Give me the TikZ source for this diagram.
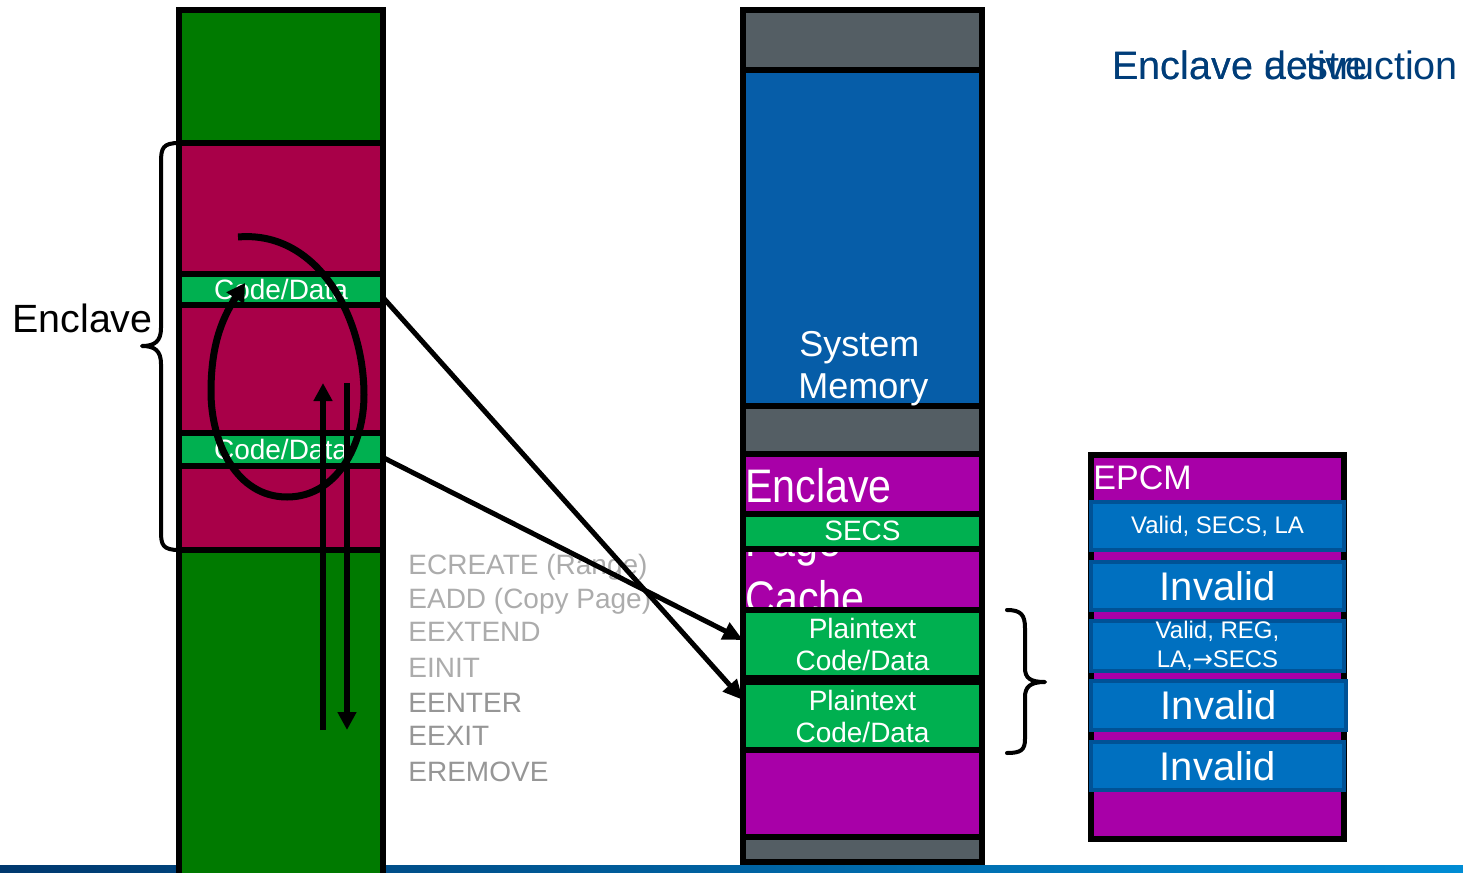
\documentclass[tikz,border=0pt]{standalone}
\usepackage{fontspec}
\setmainfont{Liberation Sans}
\newfontfamily\arrowfont{DejaVu Sans}
\usetikzlibrary{arrows.meta}

\definecolor{dkgreen}{RGB}{0,122,0}
\definecolor{maroon}{RGB}{168,0,72}
\definecolor{ltgreen}{RGB}{0,176,80}
\definecolor{slate}{RGB}{84,94,100}
\definecolor{sysblue}{RGB}{6,93,168}
\definecolor{epcpurple}{RGB}{168,0,168}
\definecolor{boxblue}{RGB}{0,112,192}
\definecolor{boxedge}{RGB}{0,82,150}
\definecolor{titleblue}{RGB}{0,61,121}
\definecolor{cmdgray}{RGB}{172,172,172}
\definecolor{cmddark}{RGB}{150,150,150}
\definecolor{barleft}{RGB}{0,56,110}
\definecolor{barright}{RGB}{0,140,212}

\begin{document}
\begin{tikzpicture}[x=0.5pt,y=-0.5pt,
  seg/.style={draw=black, line width=3pt, inner sep=0pt, outer sep=0pt, anchor=north west},
  lcol/.style={seg, minimum width=102pt},
  mcol/.style={seg, minimum width=119.5pt},
  bandtext/.style={text=white, font=\fontsize{14pt}{16pt}\selectfont, align=center},
  epcmbox/.style={draw=boxedge, line width=2pt, fill=boxblue, inner sep=0pt, outer sep=0pt,
    text=white, align=center},
  small/.style={font=\fontsize{12pt}{14.5pt}\selectfont},
  big/.style={font=\fontsize{20pt}{22pt}\selectfont},
  cmd/.style={anchor=base west, inner sep=0pt, font=\fontsize{14pt}{16pt}\selectfont},
  epctext/.style={anchor=base west, inner sep=0pt, text=white, font=\fontsize{21pt}{26.5pt}\selectfont},
  brace/.style={draw=black, line width=2pt, line cap=round, line join=round},
  flow/.style={draw=black, line width=2.5pt, -{Triangle[length=10pt,width=9pt]}},
  vflow/.style={draw=black, line width=3pt, -{Triangle[length=9pt,width=9pt]}},
  loop/.style={draw=black, line width=3.5pt, -{Triangle[length=9pt,width=10pt]}}
]
\useasboundingbox (0,0) rectangle (1463,873);

% footer bar
\shade[left color=barleft, right color=barright] (0,865) rectangle (1463,873);

% ---- application address space ----
\node[lcol, fill=dkgreen, minimum height=66.5pt] (lctop) at (179,10) {};
\node[lcol, fill=maroon, minimum height=65.5pt] (mr1) at (179,143) {};
\node[lcol, fill=ltgreen, minimum height=15.5pt] (cd1) at (179,274) {};
\node[lcol, fill=maroon, minimum height=64pt] (mr2) at (179,305) {};
\node[lcol, fill=ltgreen, minimum height=16.5pt] (cd2) at (179,433) {};
\node[lcol, fill=maroon, minimum height=42pt] (mr3) at (179,466) {};
\node[lcol, fill=dkgreen, minimum height=175pt] (lcbot) at (179,550) {};
\node[bandtext] at (cd1.center) {Code/Data};
\node[bandtext] at (cd2.center) {Code/Data};

% enclave brace and label
\draw[brace] (mr1.north west) .. controls (163,143) and (161,148) .. (161,162)
  -- (161,328) .. controls (161,341) and (155,346) .. (142,346)
  .. controls (155,346) and (161,351) .. (161,364)
  -- (161,532) .. controls (161,545) and (163,550) .. (mr3.south west);
\node[anchor=base west, inner sep=0pt, font=\fontsize{19.7pt}{22pt}\selectfont] (enclbl) at (12,332) {Enclave};

% ---- physical memory ----
\node[mcol, fill=slate, minimum height=30pt] (mtop) at (743,10) {};
\node[mcol, fill=sysblue, minimum height=168pt] (sysmem) at (743,70) {};
\node[mcol, fill=slate, minimum height=24pt] (mgap) at (743,406) {};
\node[mcol, fill=epcpurple, minimum height=191.5pt] (epc) at (743,454) {};
\node[mcol, fill=slate, minimum height=12.5pt] (mbot) at (743,837) {};

\node[anchor=base west, inner sep=0pt, text=white, font=\fontsize{18pt}{21pt}\selectfont] at (799,356) {System};
\node[anchor=base west, inner sep=0pt, text=white, font=\fontsize{18pt}{21pt}\selectfont] at (798,398) {Memory};

\node[epctext] at (745,502) {\scalebox{0.98}[1.12]{Enclave}};
\node[epctext] at (745,556) {\scalebox{0.98}[1.12]{Page}};
\node[epctext] at (745,614) {\scalebox{0.98}[1.12]{Cache}};

\node[mcol, fill=ltgreen, minimum height=17.25pt] (secs) at (743,514) {};
\node[bandtext] at (secs.center) {SECS};
\node[mcol, fill=ltgreen, minimum height=34pt] (pt1) at (743,610) {};
\node[bandtext] at (pt1.center) {Plaintext\\Code/Data};
\node[mcol, fill=ltgreen, minimum height=34pt] (pt2) at (743,682) {};
\node[bandtext] at (pt2.center) {Plaintext\\Code/Data};

% brace over the loaded pages
\draw[brace] (1007,610) .. controls (1021,610) and (1025,615) .. (1025,628)
  -- (1025,668) .. controls (1025,678) and (1030,682) .. (1045,682)
  .. controls (1030,682) and (1025,687) .. (1025,697)
  -- (1025,739) .. controls (1025,750) and (1021,753) .. (1007,753);

% ---- EPCM ----
\node[seg, fill=epcpurple, minimum width=126.25pt, minimum height=192pt] (epcm) at (1091,454.5) {};
\node[anchor=base west, inner sep=0pt, text=white, font=\fontsize{17pt}{20pt}\selectfont] at (1093,489) {EPCM};
\node[epcmbox, small, minimum width=126.5pt, minimum height=24pt] (e1) at (1217.5,526) {Valid, SECS, LA};
\node[epcmbox, big, minimum width=126.5pt, minimum height=24pt] (e2) at (1217.5,586) {Invalid};
\node[epcmbox, small, minimum width=126.5pt, minimum height=24pt] (e3) at (1217.5,646) {Valid, REG,\\LA,{\arrowfont →}SECS};
\node[epcmbox, big, minimum width=127.5pt, minimum height=24.5pt] (e4) at (1218.5,705.5) {Invalid};
\node[epcmbox, big, minimum width=126.5pt, minimum height=24pt] (e5) at (1217.5,766) {Invalid};

% ---- instruction list ----
\node[cmd, text=cmdgray] (c1) at (408,574) {ECREATE (Range)};
\node[cmd, text=cmdgray] (c2) at (408,608) {EADD (Copy Page)};
\node[cmd, text=cmdgray] (c3) at (408,641) {EEXTEND};
\node[cmd, text=cmdgray] (c4) at (408,677) {EINIT};
\node[cmd, text=cmddark] (c5) at (408,712) {EENTER};
\node[cmd, text=cmddark] (c6) at (408,745) {EEXIT};
\node[cmd, text=cmddark] (c7) at (408,781) {EREMOVE};

% ---- page copies ----
\draw[flow] ([yshift=-4pt]cd1.east) -- ([yshift=8pt]pt2.west);
\draw[flow] ([yshift=-4pt]cd2.east) -- ([yshift=2pt]pt1.west);

% ---- enter / exit and execution inside the enclave ----
\coordinate (entA) at (323,730);
\coordinate (entB) at (323,383);
\coordinate (extA) at (347,383);
\coordinate (extB) at (347,730);
\draw[vflow] (entA) -- (entB);
\draw[vflow] (extA) -- (extB);

\coordinate (runA) at (238,237);
\coordinate (runB) at (245,283);
\draw[loop] (runA) to[out=5,in=90] (364,395) to[out=270,in=0] (287,497)
  to[out=180,in=270] (211,392) to[out=90,in=237] (runB);

% ---- heading ----
\node[anchor=base west, inner sep=0pt, text=titleblue, font=\fontsize{19.8pt}{22pt}\selectfont] (t1) at (1112,79) {Enclave destruction};
\node[anchor=base west, inner sep=0pt, text=titleblue, font=\fontsize{19.8pt}{22pt}\selectfont] (t2) at (1112,79) {Enclave active};
\end{tikzpicture}
\end{document}
